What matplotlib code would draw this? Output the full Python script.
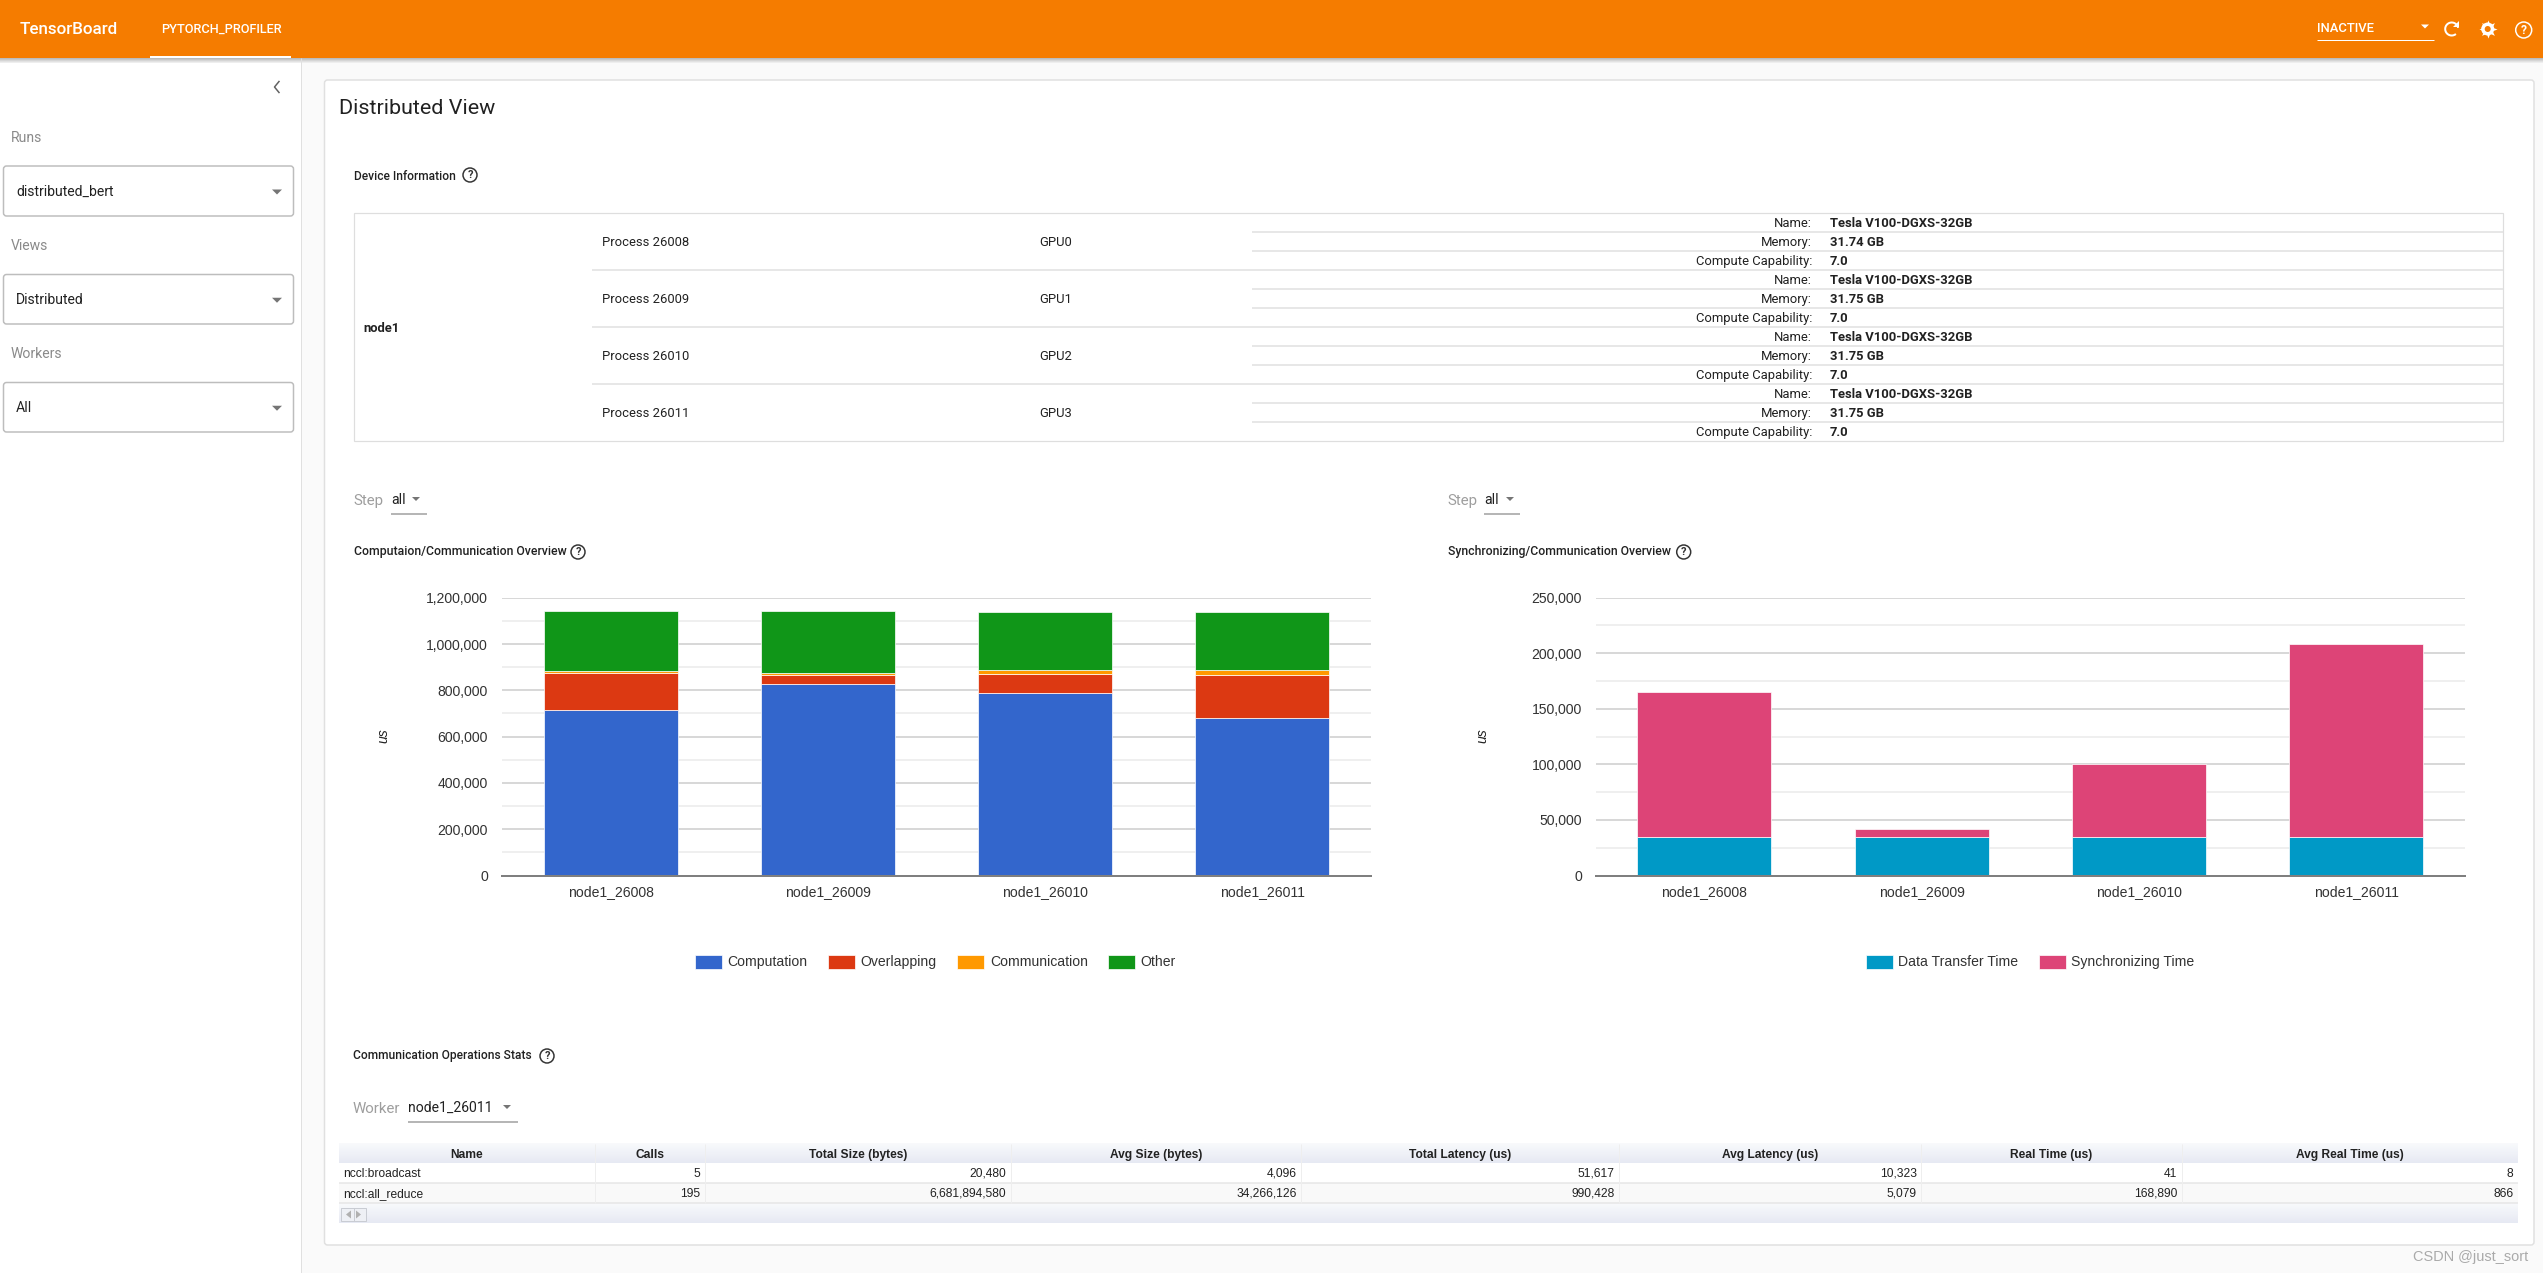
#!/usr/bin/env python3

import matplotlib
matplotlib.use('Agg')
import matplotlib.pyplot as plt
import numpy as np
from matplotlib.colors import LinearSegmentedColormap
from matplotlib.patches import Arc, Circle, FancyBboxPatch, Rectangle
from matplotlib.ticker import FuncFormatter, MultipleLocator

W, H = 2543, 1273
UI_FONT = 'Roboto'
CHART_FONT = 'Liberation Sans'

workers = ['node1_26008', 'node1_26009', 'node1_26010', 'node1_26011']
computation = [716800, 829300, 790400, 682200]
overlapping = [155800, 37500, 80800, 184600]
communication = [8700, 5800, 17300, 21700]
other = [263000, 271700, 251500, 251500]
data_transfer = [34250, 34250, 34250, 34250]
synchronizing = [130900, 7800, 66000, 174400]

processes = ['Process 26008', 'Process 26009', 'Process 26010', 'Process 26011']
gpus = ['GPU0', 'GPU1', 'GPU2', 'GPU3']
gpu_names = ['Tesla V100-DGXS-32GB'] * 4
gpu_memory = ['31.74 GB', '31.75 GB', '31.75 GB', '31.75 GB']
gpu_capability = ['7.0', '7.0', '7.0', '7.0']

stats_header = ['Name', 'Calls', 'Total Size (bytes)', 'Avg Size (bytes)', 'Total Latency (us)',
                'Avg Latency (us)', 'Real Time (us)', 'Avg Real Time (us)']
stats_rows = [
    ['nccl:broadcast', '5', '20,480', '4,096', '51,617', '10,323', '41', '8'],
    ['nccl:all_reduce', '195', '6,681,894,580', '34,266,126', '990,428', '5,079', '168,890', '866'],
]
stats_edges = [339, 595, 704.6, 1011, 1301, 1619, 1921.4, 2181.5, 2518]


def px(size):
    return size * 0.72


def label(x, y, text, size=13, color='#212121', ha='left', weight='normal', family=UI_FONT, **kw):
    bg.text(x, y + 1, text, fontsize=px(size), color=color, ha=ha, va='center',
            fontweight=weight, family=family, **kw)


def rect(x0, y0, x1, y1, color, z=1):
    bg.add_patch(Rectangle((x0, y0), x1 - x0, y1 - y0, facecolor=color, edgecolor='none', zorder=z))


def hline(x0, x1, y, color='#e0e0e0', lw=1.0, z=3):
    bg.plot([x0, x1], [y, y], color=color, lw=px(lw), solid_capstyle='butt', zorder=z)


def vline(x, y0, y1, color='#e0e0e0', lw=1.0, z=3):
    bg.plot([x, x], [y0, y1], color=color, lw=px(lw), solid_capstyle='butt', zorder=z)


def triangle(x, y, size=5, color='#757575'):
    bg.fill([x - size, x + size, x], [y - size / 2, y - size / 2, y + size / 2], color=color, lw=0, zorder=6)


def gradient(x0, y0, x1, y1, top, bottom, z=2):
    cmap = LinearSegmentedColormap.from_list('g', [top, bottom])
    bg.imshow(np.linspace(0, 1, 32).reshape(-1, 1), extent=(x0, x1, y1, y0), aspect='auto',
              cmap=cmap, zorder=z, interpolation='bilinear')


def help_icon(x, y, r=7, color='#333333', size=11):
    bg.add_patch(Circle((x, y), r, facecolor='none', edgecolor=color, lw=px(1.5), zorder=6))
    label(x, y - 1, '?', size=size, color=color, ha='center', weight='bold', zorder=6)


def select_box(y0, y1, text, caption, caption_y):
    label(11, caption_y, caption, size=14, color='#8a8a8a')
    bg.add_patch(FancyBboxPatch((3.5, y0), 290, y1 - y0, boxstyle='round,pad=0,rounding_size=3',
                                facecolor='white', edgecolor='#bdbdbd', lw=px(1.5), zorder=3))
    label(16, (y0 + y1) / 2, text, size=14, zorder=4)
    triangle(277, (y0 + y1) / 2 + 1, size=5)


def inline_select(x_caption, x_value, x_tri, x_end, y, caption, value):
    label(x_caption, y, caption, size=15, color='#9e9e9e')
    label(x_value, y - 1, value, size=14)
    triangle(x_tri, y - 1, size=4)
    hline(x_value, x_end, y + 13.5, color='#9e9e9e', lw=1.5)


def chart_axes(x0, x1, y_top=597.7, y_bottom=875.5):
    ax = fig.add_axes([x0 / W, 1 - y_bottom / H, (x1 - x0) / W, (y_bottom - y_top) / H])
    ax.set_facecolor('none')
    ax.set_zorder(2)
    return ax


def stacked(ax, series, colors, names, ymax, major, minor, ylabel_x, legend_center):
    bottom = np.zeros(len(workers))
    x = np.arange(len(workers))
    for values, color, name in zip(series, colors, names):
        ax.bar(x, values, 0.617, bottom=bottom, color=color, edgecolor='white', linewidth=0.5,
               label=name, zorder=3)
        bottom += np.array(values)
    ax.set_xlim(-0.5, len(workers) - 0.5)
    ax.set_ylim(0, ymax)
    ax.yaxis.set_major_locator(MultipleLocator(major))
    ax.yaxis.set_minor_locator(MultipleLocator(minor))
    ax.yaxis.set_major_formatter(FuncFormatter(lambda v, _: f'{int(v):,}'))
    ax.set_xticks(x, workers)
    ax.grid(True, axis='y', which='major', color='#cccccc', lw=px(1.5), zorder=1)
    ax.grid(True, axis='y', which='minor', color='#ebebeb', lw=px(1.5), zorder=1)
    ax.set_axisbelow(True)
    for side in ['top', 'left', 'right']:
        ax.spines[side].set_visible(False)
    ax.spines['bottom'].set_color('#7f7f7f')
    ax.spines['bottom'].set_linewidth(px(2))
    ax.spines['bottom'].set_zorder(5)
    ax.tick_params(axis='both', which='both', length=0)
    ax.tick_params(axis='y', pad=10, labelsize=px(14), labelcolor='#333333')
    ax.tick_params(axis='x', pad=6.5, labelsize=px(14), labelcolor='#333333')
    for t in ax.get_xticklabels() + ax.get_yticklabels():
        t.set_family(CHART_FONT)
    label(ylabel_x, 735, 'us', size=14, color='#222222', ha='center', family=CHART_FONT,
          style='italic', rotation=90)
    cx, cy = legend_center
    ax.legend(loc='center', bbox_to_anchor=(cx / W, 1 - cy / H), bbox_transform=fig.transFigure,
              ncol=len(series), frameon=False, handlelength=1.93, handleheight=1.2,
              handletextpad=0.4, columnspacing=1.45, borderpad=0, borderaxespad=0,
              prop={'family': CHART_FONT, 'size': px(14)}, labelcolor='#333333')


fig = plt.figure(figsize=(W / 100, H / 100), dpi=100, facecolor='#fafafa')
bg = fig.add_axes([0, 0, 1, 1])
bg.set_axis_off()

# page frame
rect(0, 0, 301, H, 'white')
vline(301, 58, H, color='#e0e0e0')
gradient(0, 58, W, 63, '#b5b5b5', '#f5f5f5', z=2)
rect(0, 0, W, 58, '#f57c00', z=3)
label(19.5, 28, 'TensorBoard', size=17, color='white', weight='medium', zorder=5)
label(161, 28, 'PYTORCH_PROFILER', size=12.8, color='white', weight='medium', zorder=5)
rect(150, 56, 291, 58, 'white', z=4)
label(2317, 27, 'INACTIVE', size=13, color='white', weight='medium', zorder=5)
hline(2317, 2434, 40, color='white', z=5)
triangle(2425, 26.5, size=4, color='white')
bg.add_patch(Arc((2451.7, 29), 13, 13, theta1=-310, theta2=-10, color='white', lw=px(2), zorder=5))
bg.fill([2453, 2459, 2459], [27, 27, 21], color='white', lw=0, zorder=5)
bg.scatter([2487.7], [29], s=170, marker=(8, 1, 0), color='white', zorder=5, linewidths=0)
bg.add_patch(Circle((2487.7, 29), 6.5, facecolor='white', edgecolor='none', zorder=5))
bg.add_patch(Circle((2487.7, 29), 3, facecolor='#f57c00', edgecolor='none', zorder=6))
help_icon(2523.7, 30, r=8, color='white', size=12)

# sidebar
bg.plot([279, 274.5, 279], [81.5, 87, 92.5], color='#616161', lw=px(1.5), zorder=3)
select_box(166, 216, 'distributed_bert', 'Runs', 136.5)
select_box(274.5, 324, 'Distributed', 'Views', 244.5)
select_box(382.5, 432, 'All', 'Workers', 352.5)

# card
bg.add_patch(FancyBboxPatch((324.5, 80), 2209.5, 1165, boxstyle='round,pad=0,rounding_size=3',
                            facecolor='white', edgecolor='#e0e0e0', lw=px(1.5), zorder=2))
label(339, 108, 'Distributed View', size=21.5, color='#212121', zorder=4)

# device information
label(354, 175, 'Device Information', size=12, weight='medium', zorder=4)
help_icon(470, 175)
bg.add_patch(Rectangle((353.5, 213.3), 2149.5, 228, facecolor='white', edgecolor='#dedede', lw=px(1.2), zorder=2))
label(363.5, 327, 'node1', size=13, weight='bold', zorder=4)
row_h = 19
for i in range(4):
    top = 213.3 + i * 3 * row_h
    label(602, top + 28, processes[i], zorder=4)
    label(1039, top + 28, gpus[i], zorder=4)
    if i > 0:
        hline(592, 2503, top, lw=1.5)
    for j, (key, val) in enumerate([('Name:', gpu_names[i]), ('Memory:', gpu_memory[i]),
                                    ('Compute Capability:', gpu_capability[i])]):
        label(1812, top + 9.5 + j * row_h, key, size=13, ha='right', zorder=4)
        label(1830, top + 9.5 + j * row_h, val, size=13, weight='bold', zorder=4)
        if j > 0:
            hline(1252, 2503, top + j * row_h, lw=1.5)

# chart headers
inline_select(353.5, 391, 416, 427, 500, 'Step', 'all')
inline_select(1447, 1484, 1510, 1520, 500, 'Step', 'all')
label(353.5, 550.7, 'Computaion/Communication Overview', size=12.2, weight='medium', zorder=4)
help_icon(578, 552)
label(1448, 550.7, 'Synchronizing/Communication Overview', size=12.2, weight='medium', zorder=4)
help_icon(1683.7, 552)

# charts
left = chart_axes(502, 1371)
stacked(left, [computation, overlapping, communication, other],
        ['#3366cc', '#dc3912', '#ff9900', '#109618'],
        ['Computation', 'Overlapping', 'Communication', 'Other'],
        1200000, 200000, 100000, 383, (935.5, 962))
right = chart_axes(1595.8, 2465)
stacked(right, [data_transfer, synchronizing], ['#0099c6', '#dd4477'],
        ['Data Transfer Time', 'Synchronizing Time'],
        250000, 50000, 25000, 1482, (2030, 962))

# communication stats
label(353, 1055, 'Communication Operations Stats', size=12, weight='medium', zorder=4)
help_icon(547, 1056)
inline_select(353, 408, 507, 518, 1108, 'Worker', 'node1_26011')

gradient(339, 1144, 2518, 1163.3, '#f9fafc', '#e6e9f3', z=3)
rect(339, 1163.3, 2518, 1183.3, 'white', z=3)
rect(339, 1183.3, 2518, 1203.3, '#f9f9f9', z=3)
gradient(339, 1203.3, 2518, 1222.7, '#f9fafc', '#e6e9f3', z=3)
hline(339, 2518, 1183.3, color='#e6e6e6', lw=1.5, z=4)
hline(339, 2518, 1203.3, color='#e6e6e6', lw=1.5, z=4)
for edge in stats_edges[1:-1]:
    vline(edge, 1144, 1203.3, color='#eeeeee', z=4)
for i, title in enumerate(stats_header):
    label((stats_edges[i] + stats_edges[i + 1]) / 2, 1154, title, size=12, ha='center',
          weight='bold', family=CHART_FONT, color='#222222', zorder=5)
for r, row in enumerate(stats_rows):
    y = 1173 + r * 20
    label(343, y, row[0], size=12, family=CHART_FONT, color='#222222', zorder=5)
    for i, val in enumerate(row[1:], start=1):
        label(stats_edges[i + 1] - 4.5, y, val, size=12, ha='right', family=CHART_FONT, color='#222222', zorder=5)
bg.add_patch(Rectangle((341, 1208), 25, 13, facecolor='#eef0f5', edgecolor='#c9ccd3', lw=px(1), zorder=4))
vline(353.5, 1208, 1221, color='#c9ccd3', z=5)
bg.fill([351, 351, 346], [1210.5, 1218.5, 1214.5], color='#b0b0b0', lw=0, zorder=5)
bg.fill([356, 356, 361], [1210.5, 1218.5, 1214.5], color='#b0b0b0', lw=0, zorder=5)

label(2528, 1256, 'CSDN @just_sort', size=14.5, ha='right', color='#aaaaaa', family=CHART_FONT)

bg.set_xlim(0, W)
bg.set_ylim(H, 0)

fig.savefig('out.png', dpi=100, facecolor=fig.get_facecolor())
